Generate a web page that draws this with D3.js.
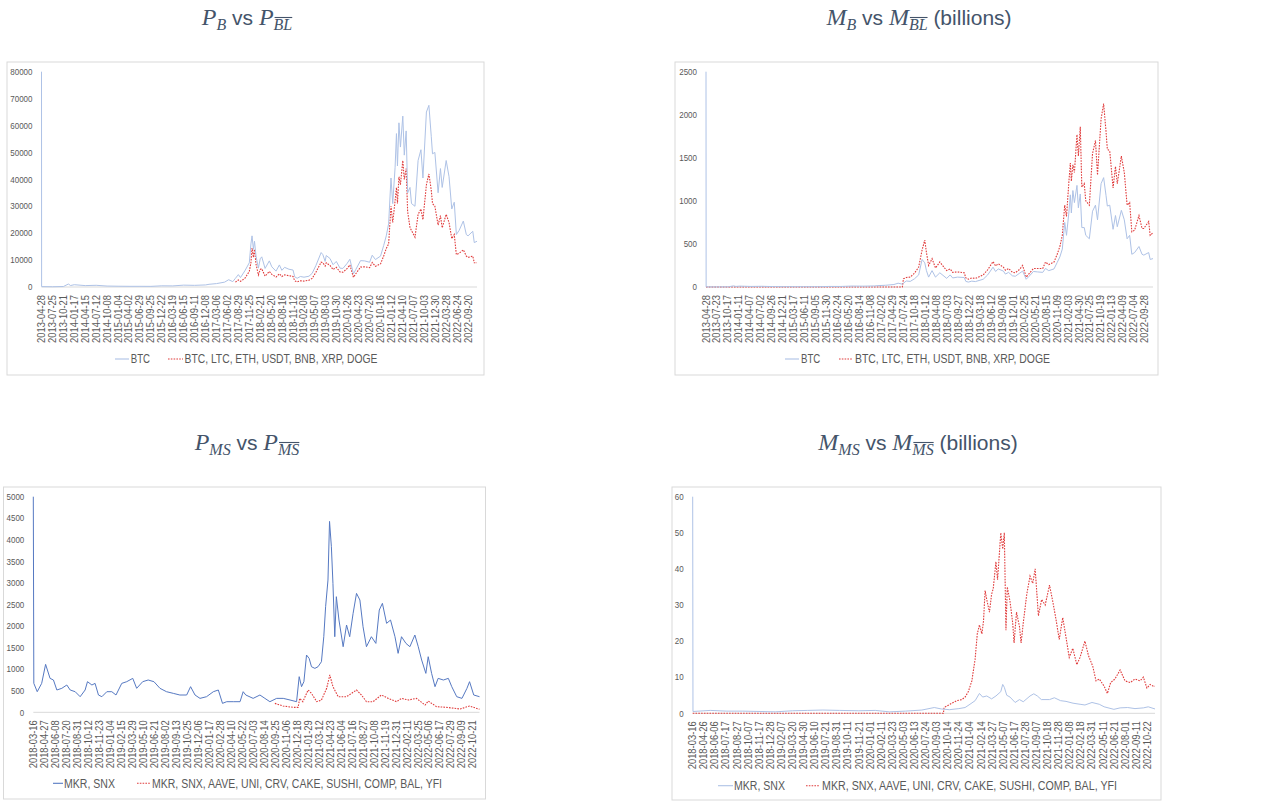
<!DOCTYPE html>
<html>
<head>
<meta charset="utf-8">
<script src="https://cdn.jsdelivr.net/npm/d3@7"></script>
<style>
  body { margin: 0; background: #fff; }
  svg { display: block; }
  text { white-space: pre; }
</style>
</head>
<body>
<svg id="chart" width="1273" height="801"></svg>
<script>
// ---- data ----
const bigTicksP = ["2013-04-28","2013-07-25","2013-10-21","2014-01-17","2014-04-15","2014-07-12","2014-10-08","2015-01-04","2015-04-02","2015-06-29","2015-09-25","2015-12-22","2016-03-19","2016-06-15","2016-09-11","2016-12-08","2017-03-06","2017-06-02","2017-08-29","2017-11-25","2018-02-21","2018-05-20","2018-08-16","2018-11-12","2019-02-08","2019-05-07","2019-08-03","2019-10-30","2020-01-26","2020-04-23","2020-07-20","2020-10-16","2021-01-12","2021-04-10","2021-07-07","2021-10-03","2021-12-30","2022-03-28","2022-06-24","2022-09-20"];
const bigTicksM = ["2013-04-28","2013-07-23","2013-10-17","2014-01-11","2014-04-07","2014-07-02","2014-09-26","2014-12-21","2015-03-17","2015-06-11","2015-09-05","2015-11-30","2016-02-24","2016-05-20","2016-08-14","2016-11-08","2017-02-02","2017-04-29","2017-07-24","2017-10-18","2018-01-12","2018-04-08","2018-07-03","2018-09-27","2018-12-22","2019-03-18","2019-06-12","2019-09-06","2019-12-01","2020-02-25","2020-05-21","2020-08-15","2020-11-09","2021-02-03","2021-04-30","2021-07-25","2021-10-19","2022-01-13","2022-04-09","2022-07-04","2022-09-28"];
const msTicksP = ["2018-03-16","2018-04-27","2018-06-08","2018-07-20","2018-08-31","2018-10-12","2018-11-23","2019-01-04","2019-02-15","2019-03-29","2019-05-10","2019-06-21","2019-08-02","2019-09-13","2019-10-25","2019-12-06","2020-01-17","2020-02-28","2020-04-10","2020-05-22","2020-07-03","2020-08-14","2020-09-25","2020-11-06","2020-12-18","2021-01-29","2021-03-12","2021-04-23","2021-06-04","2021-07-16","2021-08-27","2021-10-08","2021-11-19","2021-12-31","2022-02-11","2022-03-25","2022-05-06","2022-06-17","2022-07-29","2022-09-09","2022-10-21"];
const msTicksM = ["2018-03-16","2018-04-26","2018-06-06","2018-07-17","2018-08-27","2018-10-07","2018-11-17","2018-12-28","2019-02-07","2019-03-20","2019-04-30","2019-06-10","2019-07-21","2019-08-31","2019-10-11","2019-11-21","2020-01-01","2020-02-11","2020-03-23","2020-05-03","2020-06-13","2020-07-24","2020-09-03","2020-10-14","2020-11-24","2021-01-04","2021-02-14","2021-03-27","2021-05-07","2021-06-17","2021-07-28","2021-09-07","2021-10-18","2021-11-28","2022-01-08","2022-02-18","2022-03-31","2022-05-11","2022-06-21","2022-08-01","2022-09-11","2022-10-22"];

const yTicksPB = [0,10000,20000,30000,40000,50000,60000,70000,80000];
const yTicksMB = [0,500,1000,1500,2000,2500];
const yTicksPMS = [0,500,1000,1500,2000,2500,3000,3500,4000,4500,5000];
const yTicksMMS = [0,10,20,30,40,50,60];

const bigNames = ["BTC", "BTC, LTC, ETH, USDT, BNB, XRP, DOGE"];
const msNames = ["MKR, SNX", "MKR, SNX, AAVE, UNI, CRV, CAKE, SUSHI, COMP, BAL, YFI"];

// P_B : BTC price
const pbBtc = [["2013-04-28",80000],["2013-04-29",140],["2013-07-25",95],["2013-10-21",180],["2013-11-30",1100],["2013-12-18",550],["2014-01-17",850],["2014-04-15",520],["2014-07-12",630],["2014-10-08",350],["2015-01-04",290],["2015-04-02",250],["2015-06-29",250],["2015-09-25",235],["2015-12-22",440],["2016-03-19",410],["2016-06-15",690],["2016-09-11",610],["2016-12-08",770],["2017-01-05",1000],["2017-03-06",1260],["2017-05-10",1800],["2017-06-12",2700],["2017-07-15",2000],["2017-08-05",3200],["2017-08-29",4600],["2017-09-15",3500],["2017-10-20",6000],["2017-11-25",9000],["2017-12-08",16000],["2017-12-17",19000],["2017-12-28",14000],["2018-01-06",17000],["2018-01-18",11500],["2018-02-06",7000],["2018-02-21",10500],["2018-03-05",11200],["2018-04-01",6900],["2018-05-05",9700],["2018-05-25",7500],["2018-06-28",5900],["2018-07-25",8200],["2018-08-14",6200],["2018-09-05",7300],["2018-10-10",6600],["2018-11-12",6300],["2018-11-25",3800],["2018-12-15",3250],["2019-01-10",3900],["2019-02-08",3650],["2019-03-20",4000],["2019-04-15",5100],["2019-05-15",8000],["2019-06-26",12800],["2019-07-10",12000],["2019-07-28",9500],["2019-08-06",11700],["2019-09-05",10600],["2019-09-30",8300],["2019-10-26",9500],["2019-11-25",7000],["2019-12-18",6900],["2020-01-20",8700],["2020-02-12",10300],["2020-03-12",4900],["2020-04-01",6600],["2020-05-08",9800],["2020-06-10",9700],["2020-07-20",9200],["2020-08-10",11800],["2020-09-05",10200],["2020-10-16",11500],["2020-11-10",15400],["2020-12-01",19000],["2020-12-20",23500],["2021-01-08",40500],["2021-01-22",31000],["2021-02-10",44500],["2021-02-21",57000],["2021-03-01",45000],["2021-03-13",61000],["2021-03-25",52000],["2021-04-13",63500],["2021-04-25",49000],["2021-05-10",58000],["2021-05-22",35000],["2021-06-10",37000],["2021-06-22",31000],["2021-07-20",30000],["2021-08-14",47000],["2021-09-06",51000],["2021-09-22",40500],["2021-10-20",65000],["2021-11-09",67500],["2021-11-28",56000],["2021-12-08",49500],["2021-12-27",50000],["2022-01-22",35000],["2022-02-10",44000],["2022-02-24",37000],["2022-03-28",47000],["2022-04-20",41000],["2022-05-12",29000],["2022-06-01",31500],["2022-06-18",19500],["2022-07-10",21000],["2022-08-13",24500],["2022-09-06",19500],["2022-09-20",19000],["2022-10-28",20700],["2022-11-09",16500],["2022-12-01",17000]];

// P_BL : basket price
const pbBasket = [["2017-08-05",1800],["2017-08-29",2600],["2017-09-15",2100],["2017-10-20",3200],["2017-11-25",5800],["2017-12-08",9000],["2017-12-17",14500],["2017-12-28",11000],["2018-01-06",14000],["2018-01-18",8500],["2018-02-06",4500],["2018-02-21",6500],["2018-03-05",6800],["2018-04-01",4000],["2018-05-05",5800],["2018-05-25",4700],["2018-06-28",3700],["2018-07-25",4900],["2018-08-14",3900],["2018-09-05",4500],["2018-10-10",4200],["2018-11-12",3900],["2018-11-25",2300],["2018-12-15",1900],["2019-01-10",2300],["2019-02-08",2200],["2019-03-20",2500],["2019-04-15",3200],["2019-05-15",5500],["2019-06-26",9200],["2019-07-10",9000],["2019-07-28",7800],["2019-08-06",9000],["2019-09-05",8000],["2019-09-30",6500],["2019-10-26",7300],["2019-11-25",5600],["2019-12-18",5500],["2020-01-20",6800],["2020-02-12",8200],["2020-03-12",3600],["2020-04-01",5000],["2020-05-08",7400],["2020-06-10",7500],["2020-07-20",7200],["2020-08-10",9100],["2020-09-05",7700],["2020-10-16",8600],["2020-11-10",11500],["2020-12-01",14300],["2020-12-20",16000],["2021-01-08",30000],["2021-01-22",24000],["2021-02-10",32000],["2021-02-21",37000],["2021-03-01",31000],["2021-03-13",41000],["2021-03-25",38000],["2021-04-13",47000],["2021-04-25",40000],["2021-05-10",44000],["2021-05-22",28000],["2021-06-10",22000],["2021-06-22",21000],["2021-07-20",18500],["2021-08-14",27000],["2021-09-06",29000],["2021-09-22",25000],["2021-10-20",38000],["2021-11-09",42000],["2021-11-28",36000],["2021-12-08",31000],["2021-12-27",30000],["2022-01-22",23000],["2022-02-10",26500],["2022-02-24",22000],["2022-03-28",27000],["2022-04-20",24000],["2022-05-12",18000],["2022-06-01",19500],["2022-06-18",12000],["2022-07-10",12500],["2022-08-13",13800],["2022-09-06",11500],["2022-09-20",11000],["2022-10-28",11500],["2022-11-09",9000],["2022-12-01",9000]];

// M_B : BTC market cap (billions)
const mbBtc = [["2013-04-28",2500],["2013-04-29",1.5],["2013-07-25",1.1],["2013-10-21",2.2],["2013-11-30",13],["2013-12-18",6.5],["2014-01-17",10],["2014-04-15",6.5],["2014-07-12",8],["2014-10-08",4.8],["2015-01-04",4],["2015-04-02",3.5],["2015-06-29",3.5],["2015-09-25",3.5],["2015-12-22",6.5],["2016-03-19",6.3],["2016-06-15",10.8],["2016-09-11",9.7],["2016-12-08",12.3],["2017-01-05",16],["2017-03-06",20],["2017-05-10",29],["2017-06-12",44],["2017-07-15",33],["2017-07-24",45],["2017-08-15",70],["2017-09-15",65],["2017-10-18",95],["2017-11-20",140],["2017-12-17",320],["2018-01-07",280],["2018-01-20",190],["2018-02-06",115],["2018-03-05",190],["2018-04-01",115],["2018-05-05",165],["2018-06-28",100],["2018-07-25",140],["2018-08-14",105],["2018-09-20",115],["2018-11-12",110],["2018-11-25",65],["2018-12-15",57],["2019-01-10",68],["2019-02-08",63],["2019-04-10",90],["2019-05-15",140],["2019-06-26",230],["2019-07-16",180],["2019-08-06",210],["2019-09-15",185],["2019-10-01",150],["2019-10-26",170],["2019-11-25",130],["2019-12-18",125],["2020-01-20",160],["2020-02-13",185],["2020-03-12",90],["2020-04-01",120],["2020-05-08",180],["2020-06-10",175],["2020-07-20",170],["2020-08-10",215],["2020-09-05",190],["2020-10-16",210],["2020-11-10",285],["2020-12-01",350],["2020-12-20",440],["2021-01-08",750],["2021-01-22",600],["2021-02-10",870],["2021-02-21",1070],["2021-03-01",860],["2021-03-13",1120],["2021-03-25",980],["2021-04-14",1180],["2021-04-25",920],["2021-05-10",1080],["2021-05-22",690],["2021-06-10",690],["2021-06-22",600],["2021-07-20",560],["2021-08-14",880],["2021-09-06",950],["2021-09-22",780],["2021-10-20",1200],["2021-11-09",1270],["2021-11-28",1060],["2021-12-08",940],["2021-12-27",950],["2022-01-22",670],["2022-02-10",830],["2022-02-24",700],["2022-03-28",890],["2022-04-20",780],["2022-05-12",560],["2022-06-01",600],["2022-06-18",380],["2022-07-10",400],["2022-08-13",470],["2022-09-06",380],["2022-09-20",370],["2022-10-28",400],["2022-11-09",320],["2022-12-01",330]];

// M_BL : basket market cap (billions)
const mbBasket = [["2013-04-28",0],["2017-07-15",0],["2017-07-24",95],["2017-08-15",110],["2017-09-15",115],["2017-10-18",160],["2017-11-20",230],["2017-12-17",430],["2018-01-07",545],["2018-01-20",400],["2018-02-06",250],["2018-03-05",330],["2018-04-01",220],["2018-05-05",290],["2018-06-28",190],["2018-07-25",210],["2018-08-14",170],["2018-09-20",175],["2018-11-12",165],["2018-11-25",105],["2018-12-15",90],["2019-01-10",105],["2019-02-08",100],["2019-04-10",140],["2019-05-15",200],["2019-06-26",295],["2019-07-16",245],["2019-08-06",270],["2019-09-15",230],["2019-10-01",195],["2019-10-26",215],["2019-11-25",170],["2019-12-18",165],["2020-01-20",205],["2020-02-13",250],["2020-03-12",115],["2020-04-01",150],["2020-05-08",215],["2020-06-10",215],["2020-07-20",215],["2020-08-10",290],["2020-09-05",260],["2020-10-16",290],["2020-11-10",380],["2020-12-01",470],["2020-12-20",600],["2021-01-08",950],["2021-01-22",820],["2021-02-10",1230],["2021-02-21",1440],["2021-03-01",1230],["2021-03-13",1420],["2021-03-25",1330],["2021-04-14",1770],["2021-04-25",1520],["2021-05-10",1860],["2021-05-22",1160],["2021-06-10",1200],["2021-06-22",1000],["2021-07-20",950],["2021-08-14",1550],["2021-09-06",1700],["2021-09-22",1300],["2021-10-20",1950],["2021-11-09",2130],["2021-11-28",1800],["2021-12-08",1600],["2021-12-27",1580],["2022-01-22",1150],["2022-02-10",1400],["2022-02-24",1200],["2022-03-28",1520],["2022-04-20",1330],["2022-05-12",950],["2022-06-01",980],["2022-06-18",640],["2022-07-10",660],["2022-08-13",830],["2022-09-06",680],["2022-09-20",680],["2022-10-28",760],["2022-11-09",600],["2022-12-01",630]];

// P_MS : MKR, SNX price
const pmsPair = [["2018-03-16",5000],["2018-03-18",672],["2018-03-31",478],["2018-04-17",671],["2018-05-02",1112],["2018-05-19",787],["2018-06-01",749],["2018-06-14",517],["2018-07-03",556],["2018-07-22",633],["2018-08-04",517],["2018-08-23",478],["2018-09-11",362],["2018-09-30",517],["2018-10-09",710],["2018-10-26",633],["2018-11-07",671],["2018-11-20",401],["2018-12-03",362],["2018-12-22",478],["2019-01-10",478],["2019-01-26",401],["2019-02-17",671],["2019-03-08",710],["2019-03-31",787],["2019-04-15",556],["2019-05-08",710],["2019-05-29",749],["2019-06-20",710],["2019-07-13",556],["2019-08-07",478],["2019-09-02",439],["2019-09-27",401],["2019-10-23",401],["2019-11-07",594],["2019-11-24",401],["2019-12-13",323],["2020-01-07",362],["2020-02-02",478],["2020-02-21",517],["2020-03-08",207],["2020-03-24",246],["2020-04-18",246],["2020-05-14",246],["2020-05-26",478],["2020-06-05",401],["2020-07-03",323],["2020-07-29",401],["2020-08-17",323],["2020-09-05",246],["2020-10-01",323],["2020-10-26",323],["2020-11-21",285],["2020-12-16",246],["2020-12-26",826],["2021-01-04",594],["2021-01-13",710],["2021-01-23",1328],["2021-02-02",1251],["2021-02-11",1057],["2021-02-24",1019],["2021-03-08",1057],["2021-03-21",1173],["2021-03-30",1753],["2021-04-06",2449],["2021-04-15",3067],["2021-04-21",4427],["2021-04-28",3840],["2021-05-04",2990],["2021-05-11",1753],["2021-05-17",2681],["2021-05-27",2140],["2021-06-12",1521],["2021-06-25",2024],["2021-07-07",1753],["2021-07-20",2294],["2021-08-02",2758],["2021-08-15",2604],["2021-08-27",1985],["2021-09-09",1521],["2021-09-28",1753],["2021-10-15",1598],["2021-10-28",2372],["2021-11-09",2527],["2021-11-25",2063],["2021-12-10",2140],["2021-12-27",1753],["2022-01-08",1367],["2022-01-21",1753],["2022-02-07",1598],["2022-02-22",1521],["2022-03-13",1792],["2022-03-26",1521],["2022-04-08",1212],["2022-04-24",903],["2022-05-03",1289],["2022-05-16",903],["2022-05-29",594],["2022-06-10",787],["2022-06-30",749],["2022-07-19",787],["2022-08-01",594],["2022-08-20",362],["2022-09-09",323],["2022-09-28",556],["2022-10-08",710],["2022-10-24",401],["2022-11-15",362]];

// P_MS-bar : wider DeFi basket price
const pmsBasket = [["2020-09-24",207],["2020-10-25",146],["2020-12-03",115],["2020-12-22",115],["2020-12-28",323],["2021-01-09",246],["2021-01-29",517],["2021-02-11",439],["2021-03-03",246],["2021-03-21",285],["2021-04-10",556],["2021-04-22",865],["2021-05-04",594],["2021-05-24",362],["2021-06-25",362],["2021-08-02",517],["2021-08-21",401],["2021-09-09",246],["2021-10-04",246],["2021-11-05",401],["2021-12-01",323],["2022-01-02",246],["2022-01-21",323],["2022-02-16",285],["2022-03-19",323],["2022-04-21",169],["2022-05-03",262],["2022-06-04",130],["2022-07-12",115],["2022-09-02",77],["2022-10-08",146],["2022-11-15",69]];

// M_MS : MKR, SNX market cap (billions)
const mmsPair = [["2018-03-16",60],["2018-03-17",0.5],["2018-05-20",0.8],["2018-07-20",0.6],["2018-09-15",0.6],["2018-11-20",0.5],["2019-01-15",0.4],["2019-03-20",0.7],["2019-05-15",0.8],["2019-07-10",0.9],["2019-09-10",0.8],["2019-11-20",0.7],["2020-01-20",0.8],["2020-03-12",0.4],["2020-05-10",0.6],["2020-07-10",0.9],["2020-08-25",1.6],["2020-09-20",1.2],["2020-10-20",1.0],["2020-11-24",1.3],["2020-12-17",1.6],["2021-01-04",2.5],["2021-01-23",3.5],["2021-02-08",5.5],["2021-02-20",4.5],["2021-03-07",4.8],["2021-03-25",4.0],["2021-04-10",4.8],["2021-04-28",6.0],["2021-05-05",8.0],["2021-05-11",7.2],["2021-05-20",5.0],["2021-06-01",4.5],["2021-06-20",3.0],["2021-07-06",3.8],["2021-07-20",3.2],["2021-08-14",4.8],["2021-08-28",5.4],["2021-09-10",4.8],["2021-09-25",3.8],["2021-10-25",3.8],["2021-11-12",4.3],["2021-12-05",3.5],["2021-12-25",3.3],["2022-01-20",2.8],["2022-02-15",2.5],["2022-03-05",2.3],["2022-03-31",3.0],["2022-04-27",2.5],["2022-05-15",1.8],["2022-06-20",1.1],["2022-07-13",1.5],["2022-08-10",1.6],["2022-09-06",1.3],["2022-10-07",1.5],["2022-10-25",1.8],["2022-11-19",1.2]];

// M_MS-bar : wider DeFi basket market cap (billions)
const mmsBasket = [["2018-03-16",0],["2020-09-28",0],["2020-09-30",1.6],["2020-10-22",2.5],["2020-11-16",3.5],["2020-12-05",3.8],["2020-12-17",4.5],["2020-12-29",6],["2021-01-11",9],["2021-01-23",15],["2021-01-31",22],["2021-02-08",24.5],["2021-02-17",22],["2021-02-23",25.5],["2021-03-01",34],["2021-03-07",31.5],["2021-03-17",28],["2021-03-25",33],["2021-03-31",34.5],["2021-04-10",42],["2021-04-16",37],["2021-04-28",50],["2021-05-05",45.5],["2021-05-11",50],["2021-05-17",23],["2021-05-22",35],["2021-06-01",31],["2021-06-11",25],["2021-06-16",19.5],["2021-06-25",28],["2021-07-06",24],["2021-07-12",19.5],["2021-07-20",25],["2021-08-02",33],["2021-08-14",38],["2021-08-24",36],["2021-09-02",40],["2021-09-14",27],["2021-09-26",31.5],["2021-10-09",30],["2021-10-25",35.5],["2021-11-06",31],["2021-11-18",26],["2021-11-30",20.5],["2021-12-13",26.5],["2021-12-25",21],["2022-01-06",15.5],["2022-01-19",18],["2022-02-03",13.5],["2022-02-15",15.5],["2022-03-05",20],["2022-03-18",16],["2022-04-03",13],["2022-04-15",9],["2022-04-27",9.5],["2022-05-15",7.5],["2022-05-27",5.5],["2022-06-08",8.5],["2022-06-24",9.5],["2022-07-13",12],["2022-07-31",9],["2022-08-19",8.5],["2022-09-06",9.5],["2022-09-25",9],["2022-10-07",10],["2022-10-20",7],["2022-11-01",8],["2022-11-13",7.5],["2022-11-19",7.5]];

// ---- drawing ----
const parse = d3.timeParse("%Y-%m-%d");
const svg = d3.select("#chart");
const sans = "'Liberation Sans', Arial, sans-serif";
const gray = "#595959";
const titleColor = "#44546A";
const lightBlue = "#AEC2E6";
const darkBlue = "#5679C2";
const red = "#E03C3C";

const panels = [
  { frame: [7, 62, 477, 313], l: 41.5, r: 477, t: 71.7, b: 287, start: "2013-04-28", end: "2022-12-01",
    yTicks: yTicksPB, xTicks: bigTicksP, names: bigNames, series: [pbBtc, pbBasket], blue: lightBlue,
    legendY: 359, legend: [[115, 129, 130.7, 19.3], [168, 183, 184.5, 193]],
    title: { x: 247, y: 25, parts: [{ s: "P", m: 1 }, { s: "B", m: 1, sub: 1 }, { s: " vs " }, { s: "P", m: 1 }, { s: "BL", m: 1, sub: 1, bar: 1 }] } },
  { frame: [675, 62, 483, 313], l: 706, r: 1153, t: 71.7, b: 287, start: "2013-04-28", end: "2022-12-01",
    yTicks: yTicksMB, xTicks: bigTicksM, names: bigNames, series: [mbBtc, mbBasket], blue: lightBlue,
    legendY: 359, legend: [[785, 799, 801, 19.3], [839, 853, 855, 195]],
    title: { x: 919, y: 25, parts: [{ s: "M", m: 1 }, { s: "B", m: 1, sub: 1 }, { s: " vs " }, { s: "M", m: 1 }, { s: "BL", m: 1, sub: 1, bar: 1 }, { s: " (billions)" }] } },
  { frame: [3.5, 487, 482, 312], l: 33.3, r: 479.5, t: 496.7, b: 712.3, start: "2018-03-16", end: "2022-11-15",
    yTicks: yTicksPMS, xTicks: msTicksP, names: msNames, series: [pmsPair, pmsBasket], blue: darkBlue,
    legendY: 783.3, legend: [[53, 63, 64, 51], [137, 150, 152, 290]],
    title: { x: 247, y: 450, parts: [{ s: "P", m: 1 }, { s: "MS", m: 1, sub: 1 }, { s: " vs " }, { s: "P", m: 1 }, { s: "MS", m: 1, sub: 1, bar: 1 }] } },
  { frame: [672, 487, 489, 313], l: 692.7, r: 1155, t: 496.7, b: 713.3, start: "2018-03-16", end: "2022-11-19",
    yTicks: yTicksMMS, xTicks: msTicksM, names: msNames, series: [mmsPair, mmsBasket], blue: lightBlue,
    legendY: 785.7, legend: [[718, 733, 734, 51], [806, 820, 822, 295]],
    title: { x: 918, y: 450, parts: [{ s: "M", m: 1 }, { s: "MS", m: 1, sub: 1 }, { s: " vs " }, { s: "M", m: 1 }, { s: "MS", m: 1, sub: 1, bar: 1 }, { s: " (billions)" }] } }
];

function drawTitle(tt) {
  const t = svg.append("text")
    .attr("x", tt.x).attr("y", tt.y)
    .attr("text-anchor", "middle")
    .attr("fill", titleColor);
  let down = false;
  const bars = [];
  tt.parts.forEach(p => {
    const ts = t.append("tspan").text(p.s);
    if (p.m) ts.style("font-family", "'Liberation Serif', 'DejaVu Serif', serif").style("font-style", "italic");
    else ts.style("font-family", sans);
    ts.style("font-size", p.sub ? "16px" : (p.m ? "24px" : "21px"));
    if (p.sub && !down) { ts.attr("dy", 5); down = true; }
    else if (!p.sub && down) { ts.attr("dy", -5); down = false; }
    if (p.bar) bars.push(ts.node());
  });
  // overline on the basket subscript
  bars.forEach(n => {
    const k = n.getNumberOfChars();
    const a = n.getExtentOfChar(0), z = n.getExtentOfChar(k - 1);
    svg.append("line")
      .attr("x1", a.x + 1).attr("x2", z.x + z.width)
      .attr("y1", a.y + 1.5).attr("y2", a.y + 1.5)
      .attr("stroke", titleColor).attr("stroke-width", 1.1);
  });
}

panels.forEach(p => {
  const g = svg.append("g");

  g.append("rect")
    .attr("x", p.frame[0]).attr("y", p.frame[1])
    .attr("width", p.frame[2]).attr("height", p.frame[3])
    .attr("fill", "none").attr("stroke", "#D9D9D9").attr("stroke-width", 1);

  const x = d3.scaleTime().domain([parse(p.start), parse(p.end)]).range([p.l, p.r]);
  const y = d3.scaleLinear().domain([0, d3.max(p.yTicks)]).range([p.b, p.t]);

  // x axis line
  g.append("line")
    .attr("x1", p.l).attr("x2", p.r).attr("y1", p.b).attr("y2", p.b)
    .attr("stroke", "#D9D9D9").attr("stroke-width", 1);

  // y tick labels
  g.selectAll(".ylab").data(p.yTicks).enter().append("text")
    .attr("x", p.l - 9).attr("y", d => y(d) + 3.2)
    .attr("text-anchor", "end")
    .attr("fill", gray)
    .style("font-family", sans).style("font-size", "9.5px")
    .attr("textLength", d => String(d).length * 4.45)
    .attr("lengthAdjust", "spacingAndGlyphs")
    .text(d => d);

  // rotated date labels
  g.selectAll(".xlab").data(p.xTicks).enter().append("text")
    .attr("transform", d => `translate(${x(parse(d))},${p.b + 8}) rotate(-90)`)
    .attr("dy", "0.35em")
    .attr("text-anchor", "end")
    .attr("fill", gray)
    .style("font-family", sans).style("font-size", "10px")
    .attr("textLength", 48)
    .attr("lengthAdjust", "spacingAndGlyphs")
    .text(d => d);

  const line = d3.line()
    .x(d => x(parse(d[0])))
    .y(d => y(d[1]));

  // basket line (dotted red) first, pair line on top like the reference
  g.append("path")
    .attr("d", line(p.series[1]))
    .attr("fill", "none")
    .attr("stroke", red)
    .attr("stroke-width", 1.1)
    .attr("stroke-dasharray", "1.6 1.2");

  g.append("path")
    .attr("d", line(p.series[0]))
    .attr("fill", "none")
    .attr("stroke", p.blue)
    .attr("stroke-width", 1)
    .attr("stroke-linejoin", "round");

  // legend
  p.legend.forEach((it, i) => {
    g.append("line")
      .attr("x1", it[0]).attr("x2", it[1]).attr("y1", p.legendY).attr("y2", p.legendY)
      .attr("stroke", i === 0 ? p.blue : red)
      .attr("stroke-width", 1.1)
      .attr("stroke-dasharray", i === 0 ? null : "1.6 1.2");
    g.append("text")
      .attr("x", it[2]).attr("y", p.legendY + 4.3)
      .attr("fill", gray)
      .style("font-family", sans).style("font-size", "12.5px")
      .attr("textLength", it[3])
      .attr("lengthAdjust", "spacingAndGlyphs")
      .text(p.names[i]);
  });

  drawTitle(p.title);
});
</script>
</body>
</html>
